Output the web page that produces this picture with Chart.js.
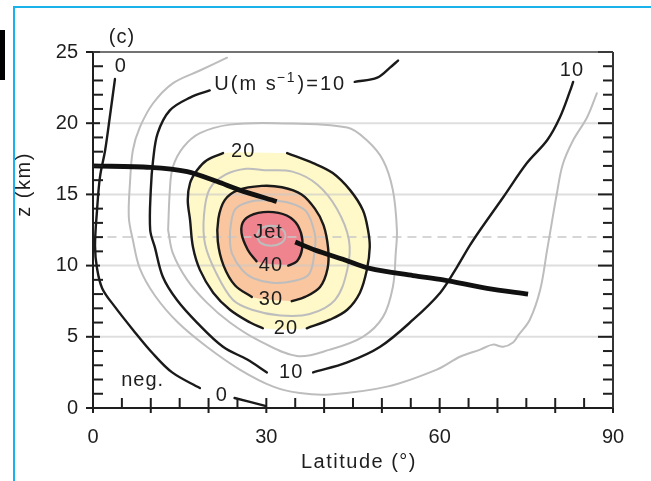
<!DOCTYPE html>
<html>
<head>
<meta charset="utf-8">
<script src="https://cdn.jsdelivr.net/npm/chart.js@4.4.1/dist/chart.umd.min.js"></script>
<style>
  html, body { margin: 0; padding: 0; background: #fff; }
  canvas { display: block; }
</style>
</head>
<body>
<canvas id="chart" width="651" height="481"></canvas>
<script>
'use strict';

// ******* DATA (latitude in degrees, height z in km) *******
let latTicks = [0, 30, 60, 90];
let zTicks = [0, 5, 10, 15, 20, 25];
let gridLevels = [5, 10, 15, 20];
let dashedLevel = 12;

// each contour is a list of segments, gaps are where the labels sit
let u0 = [
  [[3.8, 23.1], [2.9, 20.4], [2.1, 18.1], [1.2, 16.2], [0.7, 13.9], [0.35, 11.4], [0.7, 9.8], [1.6, 8.4],
   [3.8, 7.1], [6.9, 5.5], [10.2, 3.9], [13.7, 2.5], [18.5, 1.4]],
  [[24.5, 0.7], [29.8, 0.15]]
];
let u5 = [
  [[23.2, 24.6], [18.5, 23.7], [13.8, 22.8], [10.4, 21.4], [8.1, 19.7], [6.9, 18.1], [6.4, 15.8], [6.2, 13.4],
   [6.9, 11.8], [8.1, 9.8], [10.7, 7.9], [14.7, 6.0], [19.7, 4.3], [25.4, 2.7], [31.2, 1.5], [35.8, 1.05],
   [41.0, 0.95], [50.9, 1.5], [59.5, 2.7], [63.5, 3.6], [67.0, 4.1], [69.2, 4.45], [71.0, 4.3], [72.7, 4.6],
   [73.6, 5.1], [75.6, 6.2], [77.4, 8.3], [78.6, 11.1], [79.4, 13.0], [80.3, 15.1], [81.3, 17.1],
   [83.1, 18.8], [85.5, 20.4], [87.2, 22.1]]
];
let u10 = [
  [[45.3, 22.9], [49.2, 23.2], [51.4, 23.9], [52.8, 24.4]],
  [[20.2, 22.3], [16.8, 21.8], [13.3, 20.9], [11.2, 19.3], [10.4, 17.4], [10.0, 15.3], [9.9, 12.5],
   [10.7, 11.3], [12.1, 9.2], [14.5, 7.6], [18.0, 6.0], [22.5, 4.3], [26.7, 3.4], [30.1, 2.5]],
  [[38.1, 2.5], [44.0, 3.2], [49.7, 4.3], [55.4, 6.2], [60.1, 8.1], [63.0, 9.9], [65.2, 11.4], [67.0, 12.5],
   [71.0, 14.8], [75.1, 17.2], [78.6, 18.8], [80.8, 20.4], [82.6, 22.3], [83.1, 22.9]]
];
let u15 = [
  [[13.0, 12.5], [13.8, 10.9], [16.3, 9.0], [19.7, 7.4], [23.7, 6.0], [28.4, 4.8], [35.3, 3.65], [41.0, 4.1],
   [46.7, 5.0], [50.2, 6.4], [51.9, 8.5], [52.4, 10.9], [52.6, 12.5], [51.9, 15.3], [50.2, 17.4],
   [47.4, 18.8], [44.0, 19.7], [31.8, 20.0], [23.7, 19.9], [18.5, 19.3], [15.6, 18.3], [13.8, 16.9],
   [13.3, 15.3], [13.0, 12.5]]
];
let u20 = [
  [[33.6, 17.9], [38.1, 17.2], [41.5, 16.5], [44.5, 15.3], [46.7, 13.9], [47.6, 12.5], [47.9, 11.3],
   [47.4, 9.7], [46.2, 8.1], [44.0, 6.9], [41.0, 6.2], [37.0, 5.6]],
  [[29.4, 5.6], [27.2, 6.0], [23.7, 6.9], [20.8, 8.1], [18.5, 9.7], [17.3, 11.3], [16.8, 13.2],
   [16.4, 14.6], [16.8, 15.8], [18.0, 16.7], [19.7, 17.4], [22.5, 17.9]]
];
let u25 = [
  [[29.7, 16.7], [34.5, 16.6], [38.8, 15.7], [42.2, 14.0], [44.3, 11.8], [44.0, 9.7], [41.9, 7.6],
   [37.5, 6.6], [32.4, 6.5], [27.5, 6.9], [24.2, 7.6], [21.3, 9.5], [19.4, 11.5], [19.2, 13.5],
   [20.2, 15.4], [23.0, 16.4], [26.5, 16.8], [29.7, 16.7]]
];
let u30 = [
  [[34.4, 7.5], [36.7, 7.8], [39.3, 8.5], [40.6, 9.8], [40.7, 11.2], [39.9, 12.85], [38.4, 14.0],
   [36.1, 15.0], [32.7, 15.5], [29.2, 15.6], [25.1, 15.3], [22.8, 14.6], [21.7, 13.3], [21.6, 11.7],
   [22.6, 10.0], [24.6, 8.6], [27.5, 7.8]]
];
let u35 = [
  [[30.6, 14.6], [34.0, 14.4], [36.9, 13.8], [38.4, 12.2], [38.4, 11.2], [37.4, 9.4], [34.5, 8.9],
   [31.0, 8.8], [27.8, 9.1], [25.8, 9.7], [24.1, 10.8], [23.7, 11.8], [23.9, 13.0], [24.7, 14.0],
   [27.3, 14.5], [30.6, 14.6]]
];
let u40 = [
  [[33.8, 10.0], [35.3, 10.3], [36.2, 11.2], [36.0, 12.3], [34.7, 13.2], [32.1, 13.7], [28.6, 13.7],
   [26.2, 13.2], [25.7, 12.3], [26.8, 11.1], [28.3, 10.3]]
];
let u45 = [
  [[28.3, 12.1], [29.0, 12.6], [30.8, 12.8], [32.6, 12.6], [33.3, 12.1], [32.6, 11.6], [30.8, 11.4],
   [29.0, 11.6], [28.3, 12.1]]
];

// thick black line (tropopause)
let tropopause = [
  [[0, 17.0], [9.9, 16.9], [16.3, 16.6], [21.5, 15.9], [25.4, 15.3], [31.8, 14.5]],
  [[35.0, 11.65], [38.4, 11.1], [43.6, 10.4], [47.9, 9.8], [55.4, 9.3], [60.6, 9.0], [68.2, 8.4], [75.3, 8.0]]
];

// contour labels: text, latitude, height
let contourLabels = [
  ['0', 4.8, 24.0],
  ['20', 26.0, 18.0],
  ['10', 82.9, 23.7],
  ['Jet', 30.3, 12.3],
  ['40', 30.8, 10.0],
  ['30', 30.8, 7.6],
  ['20', 33.4, 5.55],
  ['10', 34.3, 2.5],
  ['neg.', 8.6, 1.95],
  ['0', 22.3, 0.85]
];
let unitLabel = [21.0, 22.75];

// ******* STYLE *******
const FONT = "'Liberation Sans', Arial, Helvetica, sans-serif";
const INK = '#1e1e1e';
const BLACK_LINE = '#1a1a1a';
const GRAY_LINE = '#bdbdbd';

// ******* HELPERS *******
function toPoints(seg) {
  return seg.map(p => ({ x: p[0], y: p[1] }));
}

let datasets = [];

function addFill(label, contour, color, order) {
  let pts = [];
  contour.forEach(seg => { pts = pts.concat(seg); });
  pts.push(pts[0]);
  datasets.push({
    label: label,
    data: toPoints(pts),
    showLine: true,
    fill: 'shape',
    backgroundColor: color,
    borderWidth: 0,
    pointRadius: 0,
    tension: 0.35,
    order: order
  });
}

function addContour(label, contour, color, width, order) {
  contour.forEach((seg, i) => {
    datasets.push({
      label: label + ' #' + i,
      data: toPoints(seg),
      showLine: true,
      fill: false,
      borderColor: color,
      borderWidth: width,
      borderCapStyle: 'round',
      pointRadius: 0,
      tension: 0.35,
      order: order
    });
  });
}

addFill('U > 20', u20, '#fff8c8', 30);
addFill('U > 30', u30, '#f9c6a0', 29);
addFill('U > 40', u40, '#ef848e', 28);

addContour('U=5', u5, GRAY_LINE, 2, 10);
addContour('U=15', u15, GRAY_LINE, 2, 10);
addContour('U=25', u25, GRAY_LINE, 2, 10);
addContour('U=35', u35, GRAY_LINE, 2, 10);
addContour('U=45', u45, GRAY_LINE, 2, 10);

addContour('U=0', u0, BLACK_LINE, 2.4, 5);
addContour('U=10', u10, BLACK_LINE, 2.4, 5);
addContour('U=20', u20, BLACK_LINE, 2.4, 5);
addContour('U=30', u30, BLACK_LINE, 2.4, 5);
addContour('U=40', u40, BLACK_LINE, 2.4, 5);

tropopause.forEach((seg, i) => {
  datasets.push({
    label: 'tropopause #' + i,
    data: toPoints(seg),
    showLine: true,
    fill: false,
    borderColor: '#111',
    borderWidth: 4.8,
    borderCapStyle: 'butt',
    pointRadius: 0,
    tension: 0.3,
    order: 1
  });
});

function line(ctx, x1, y1, x2, y2) {
  ctx.beginPath();
  ctx.moveTo(x1, y1);
  ctx.lineTo(x2, y2);
  ctx.stroke();
}

// ******* PLUGIN: grid, frame, ticks and labels *******
const decorPlugin = {
  id: 'decor',
  afterDatasetDraw(chart, args) {
    if (chart.data.datasets[args.index].label !== 'U > 40') return;
    const ctx = chart.ctx;
    const a = chart.chartArea;
    const xs = chart.scales.x;
    const ys = chart.scales.y;
    ctx.save();
    ctx.lineWidth = 2;
    ctx.strokeStyle = 'rgba(200,200,200,0.6)';
    gridLevels.forEach(z => {
      const y = ys.getPixelForValue(z);
      line(ctx, a.left, y, a.right, y);
    });
    ctx.setLineDash([9, 6]);
    ctx.strokeStyle = 'rgba(200,200,200,0.75)';
    const yd = ys.getPixelForValue(dashedLevel);
    line(ctx, xs.getPixelForValue(2.5), yd, a.right, yd);
    ctx.restore();
  },
  afterDraw(chart) {
    const ctx = chart.ctx;
    const a = chart.chartArea;
    const xs = chart.scales.x;
    const ys = chart.scales.y;
    ctx.save();

    // ticks
    ctx.strokeStyle = INK;
    ctx.lineWidth = 2;
    for (let z = 0; z <= 25; z++) {
      const y = ys.getPixelForValue(z);
      const major = z % 5 === 0;
      line(ctx, a.left - (major ? 7 : 0), y, a.left + (major ? 7 : 10), y);
      line(ctx, a.right - (major ? 15 : 10), y, a.right, y);
    }
    for (let lat = 0; lat <= 90; lat += 5) {
      const x = xs.getPixelForValue(lat);
      line(ctx, x, a.bottom - 10, x, a.bottom + (lat % 10 === 0 ? 5 : 0));
    }

    // frame
    line(ctx, a.left, a.top, a.left, a.bottom + 1);
    line(ctx, a.left - 1, a.bottom, a.right + 1, a.bottom);
    ctx.strokeStyle = '#333';
    line(ctx, a.right, a.top, a.right, a.bottom);
    ctx.strokeStyle = '#444';
    ctx.lineWidth = 1.5;
    line(ctx, a.left, a.top, a.right, a.top);

    // contour labels
    ctx.fillStyle = INK;
    ctx.letterSpacing = '1px';
    ctx.font = '20px ' + FONT;
    ctx.textAlign = 'center';
    ctx.textBaseline = 'middle';
    contourLabels.forEach(l => {
      ctx.fillText(l[0], xs.getPixelForValue(l[1]), ys.getPixelForValue(l[2]));
    });

    // U(m s-1)=10
    ctx.letterSpacing = '2px';
    let ux = xs.getPixelForValue(unitLabel[0]);
    const uy = ys.getPixelForValue(unitLabel[1]);
    ctx.textAlign = 'left';
    ctx.fillText('U(m s', ux, uy);
    ux += ctx.measureText('U(m s').width;
    ctx.font = '14px ' + FONT;
    ctx.fillText('\u22121', ux - 1, uy - 6);
    ux += ctx.measureText('\u22121').width;
    ctx.font = '20px ' + FONT;
    ctx.fillText(')=10', ux, uy);

    // panel letter and axis titles
    ctx.letterSpacing = '1px';
    ctx.textAlign = 'center';
    ctx.fillText('(c)', xs.getPixelForValue(5), ys.getPixelForValue(26));
    ctx.letterSpacing = '1.5px';
    ctx.fillText('Latitude (\u00b0)', (a.left + a.right) / 2 + 6, a.bottom + 54);
    ctx.save();
    ctx.translate(24, ys.getPixelForValue(15.7));
    ctx.rotate(-Math.PI / 2);
    ctx.fillText('z (km)', 0, 0);
    ctx.restore();

    // page frame of the figure
    ctx.fillStyle = '#fff';
    ctx.fillRect(0, 0, 13, chart.height);
    ctx.fillStyle = '#000';
    ctx.fillRect(0, 30, 5, 50);
    ctx.strokeStyle = '#1ab2ea';
    ctx.lineWidth = 2;
    line(ctx, 14, 7, 14, chart.height);
    line(ctx, 13, 7, chart.width, 7);
    ctx.restore();
  }
};

// ******* CHART *******
const tickFont = { family: FONT, size: 20 };

new Chart(document.getElementById('chart'), {
  type: 'scatter',
  data: { datasets: datasets },
  options: {
    responsive: false,
    animation: false,
    devicePixelRatio: 1,
    layout: { padding: { left: 14, top: 52, right: 38, bottom: 7 } },
    plugins: { legend: { display: false }, tooltip: { enabled: false } },
    scales: {
      x: {
        type: 'linear',
        min: 0,
        max: 90,
        afterBuildTicks: s => { s.ticks = latTicks.map(v => ({ value: v })); },
        afterFit: s => { s.height = 66; },
        grid: { display: false, drawTicks: false },
        border: { display: false },
        ticks: { font: tickFont, color: INK, padding: 17, maxRotation: 0 }
      },
      y: {
        type: 'linear',
        min: 0,
        max: 25,
        afterBuildTicks: s => { s.ticks = zTicks.map(v => ({ value: v })); },
        afterFit: s => { s.width = 79; },
        grid: { display: false, drawTicks: false },
        border: { display: false },
        ticks: { font: tickFont, color: INK, padding: 15 }
      }
    }
  },
  plugins: [decorPlugin]
});
</script>
</body>
</html>
